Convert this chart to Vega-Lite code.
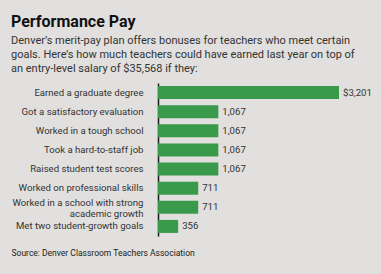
{
  "$schema": "https://vega.github.io/schema/vega-lite/v6.json",
  "autosize": {"type": "none"},
  "width": 181,
  "height": 153,
  "padding": {"left": 158, "top": 83, "right": 42, "bottom": 38},
  "background": "#e1e0de",
  "config": {"view": {"stroke": null}},
  "title": {
    "text": "Performance Pay",
    "subtitle": ["Denver’s merit-pay plan offers bonuses for teachers who meet certain", "goals. Here’s how much teachers could have earned last year on top of", "an entry-level salary of $35,568 if they:"],
    "anchor": "start",
    "frame": "group",
    "dx": -147,
    "offset": 9,
    "font": "Roboto",
    "fontSize": 16,
    "fontWeight": "bold",
    "color": "#111111",
    "subtitleFont": "Roboto",
    "subtitleFontSize": 11,
    "subtitleColor": "#333333",
    "subtitleLineHeight": 14,
    "subtitlePadding": 5
  },
  "data": {
    "values": [
      {"goal": "Earned a graduate degree", "bonus": 3201, "label": "$3,201"},
      {"goal": "Got a satisfactory evaluation", "bonus": 1067, "label": "1,067"},
      {"goal": "Worked in a tough school", "bonus": 1067, "label": "1,067"},
      {"goal": "Took a hard-to-staff job", "bonus": 1067, "label": "1,067"},
      {"goal": "Raised student test scores", "bonus": 1067, "label": "1,067"},
      {"goal": "Worked on professional skills", "bonus": 711, "label": "711"},
      {"goal": "Worked in a school with strong academic growth", "bonus": 711, "label": "711"},
      {"goal": "Met two student-growth goals", "bonus": 356, "label": "356"}
    ]
  },
  "encoding": {
    "y": {
      "field": "goal",
      "type": "nominal",
      "sort": null,
      "scale": {"paddingInner": 0.32, "paddingOuter": 0.16},
      "axis": {
        "title": null,
        "ticks": false,
        "labelPadding": 15,
        "labelFont": "Roboto",
        "labelFontSize": 9.6,
        "labelColor": "#333333",
        "labelLimit": 200,
        "labelLineHeight": 11,
        "labelOffset": {"condition": {"test": "datum.value == 'Worked in a school with strong academic growth'", "value": -4}, "value": 0},
        "labelExpr": "datum.value == 'Worked in a school with strong academic growth' ? ['Worked in a school with strong', 'academic growth'] : datum.value",
        "domainColor": "#1a1a1a",
        "domainWidth": 1.5
      }
    },
    "x": {
      "field": "bonus",
      "type": "quantitative",
      "scale": {"domain": [0, 3201], "nice": false},
      "axis": {
        "title": "Source: Denver Classroom Teachers Association",
        "labels": false,
        "ticks": false,
        "domain": false,
        "grid": false,
        "titleX": -147,
        "titleY": 19,
        "titleAlign": "left",
        "titleAnchor": "start",
        "titleBaseline": "alphabetic",
        "titleFont": "Roboto",
        "titleFontSize": 8.5,
        "titleFontWeight": "normal",
        "titleColor": "#222222"
      }
    }
  },
  "layer": [
    {"mark": {"type": "bar", "color": "#3a9a4b"}},
    {
      "mark": {"type": "text", "align": "left", "baseline": "middle", "dx": 4, "font": "Roboto", "fontSize": 9.6, "color": "#333333"},
      "encoding": {"text": {"field": "label"}}
    }
  ]
}
